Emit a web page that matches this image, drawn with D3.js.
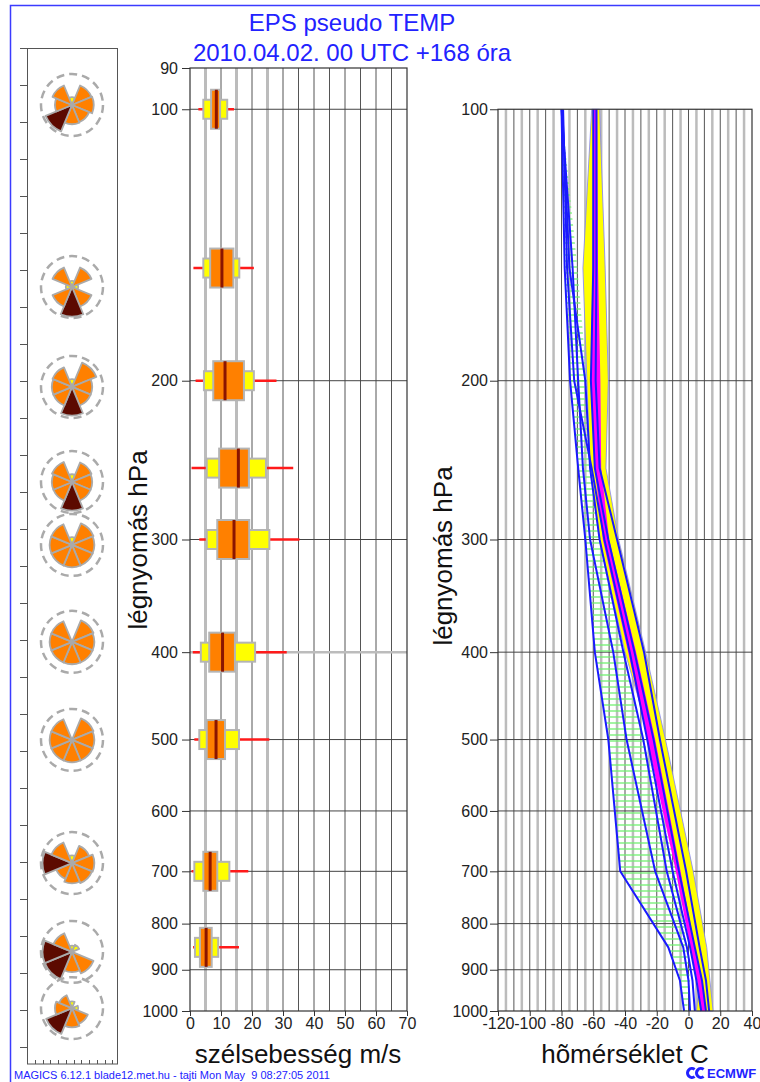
<!DOCTYPE html>
<html><head><meta charset="utf-8">
<script src="https://cdn.jsdelivr.net/npm/d3@7"></script>
<style>body{margin:0;background:#fff}svg{display:block}text{font-family:"Liberation Sans",Arial,Helvetica,sans-serif}</style>
</head><body><svg id="c" width="760" height="1082"></svg>
<script>
// ---------------- DATA ----------------
const titleLines = ["EPS pseudo TEMP", "2010.04.02. 00 UTC +168 óra"];
const footerText = "MAGICS 6.12.1 blade12.met.hu - tajti Mon May  9 08:27:05 2011";
const pressureTicks = [90,100,200,300,400,500,600,700,800,900,1000];
const tempPressureTicks = [100,200,300,400,500,600,700,800,900,1000];
const windTicks = [0,10,20,30,40,50,60,70];
const tempTicks = [-120,-100,-80,-60,-40,-20,0,20,40];

// wind speed box plots (m/s)
const windLevels = [100,150,200,250,300,400,500,700,850];
const windMin = [2.7,1.1,1.8,0.5,3.0,0.9,1.4,0.5,1.0];
const windP10 = [4.3,4.3,4.5,5.4,5.4,3.5,3.0,1.4,1.6];
const windP25 = [6.8,6.5,7.5,9.4,8.8,6.2,5.4,4.3,3.2];
const windMed = [8.5,10.3,11.3,15.6,14.2,10.5,8.4,6.5,5.2];
const windP75 = [9.7,14.0,17.4,19.0,19.1,14.5,11.3,8.8,7.0];
const windP90 = [12.0,15.9,20.6,24.5,25.6,21.0,15.8,12.7,9.1];
const windMax = [14.2,20.6,27.9,33.3,35.3,31.2,25.6,18.8,15.8];

// temperature profile (°C)
const pLevels = [100,150,200,250,300,400,500,700,850,925,1000];
const tempLo  = [-61,-66.5,-64,-62,-56,-40,-24,-5.5,3,7,5];
const tempHi  = [-56,-52.5,-50.5,-52,-44,-27,-14.5,3,11.5,13.5,15.5];
const tempQLo = [-60,-60.5,-61.5,-59,-54,-38,-26,-8,1,5.5,8];
const tempQHi = [-57.5,-57,-55.5,-55,-50,-33,-21,-5,4,8.5,11];
const greenHi = [-80,-70,-64,-62,-56,-41,-28,-7.5,-1,1,-1];
const blue0 = [-80,-78,-74.6,-69.5,-65,-59,-50.5,-43,-12.7,-5.4,-2.8];
const blue1 = [-80,-73,-69.5,-66.5,-62,-47.4,-39,-21,-3.3,0,1];
const blue2 = [-79.5,-75,-65,-62,-56,-41,-28.5,-13.7,-1,2.5,4];
const blue3 = [-79,-76.5,-72,-61,-53,-37,-26,-10,1,5,8];
const blue4 = [-60,-60,-61.5,-59,-50.5,-34,-22,-6,4,8.5,11];
const blue5 = [-58,-58,-58.5,-56,-45,-28,-18,-1.5,7,11,13];

// wind roses (left panel); position in panel units, sector size in % of dashed circle
const roseDirs = ["N","NE","E","SE","S","SW","W","NW"];
const roseY = [25.46,20.54,17.84,15.27,13.57,10.95,8.3,4.97,2.57,1.05];
const roseSize = [
  [25,68,70,60,62,92,55,68],
  [20,68,20,68,95,68,20,68],
  [25,85,65,65,92,65,65,68],
  [25,68,65,65,92,65,65,70],
  [25,75,72,72,72,72,72,72],
  [0,75,72,72,72,72,72,72],
  [0,75,72,72,72,72,72,72],
  [25,60,72,70,65,55,95,72],
  [20,25,0,75,65,95,95,65],
  [22,0,20,55,62,90,55,45]
];
// 0 = light (yellow), 1 = medium (orange), 2 = strong (dark brown)
const roseCat = [
  [0,1,1,1,1,2,1,1],
  [0,1,0,1,2,1,0,1],
  [0,1,1,1,2,1,1,1],
  [0,1,1,1,2,1,1,1],
  [0,1,1,1,1,1,1,1],
  [0,1,1,1,1,1,1,1],
  [0,1,1,1,1,1,1,1],
  [0,1,1,1,1,1,2,1],
  [0,0,1,1,1,2,2,1],
  [0,0,0,1,1,2,1,1]
];

// ---------------- DRAW ----------------
const svg = d3.select("#c");
const blue = "#2222ff";
svg.append("rect").attr("width",760).attr("height",1082).attr("fill","#fff");
svg.append("rect").attr("x",10.5).attr("y",5.5).attr("width",800).attr("height",1100)
  .attr("fill","none").attr("stroke","#3b3bff").attr("stroke-width",1.5);

svg.selectAll("text.title").data(titleLines).join("text")
  .attr("x",352).attr("y",(d,i)=>31+i*30).attr("text-anchor","middle")
  .attr("font-size",24).attr("fill",blue).text(d=>d);

const yP = d3.scaleLog().domain([90,1000]).range([68,1011]);
const xW = d3.scaleLinear().domain([0,70]).range([190,407]);
const xT = d3.scaleLinear().domain([-120,40]).range([498,752]);
const yL = d3.scaleLinear().domain([0,27]).range([1047,48]);
const xLB = d3.scaleLinear().domain([0,11.6]).range([27,117]);
const rR = d3.scaleLinear().domain([0,100]).range([0,31]);
const fmt = d => String(d);

// ---- left panel: wind roses ----
const gl = svg.append("g");
gl.append("rect").attr("x",27.5).attr("y",48.5).attr("width",90).attr("height",1015.5)
  .attr("fill","none").attr("stroke","#555").attr("stroke-width",1);
gl.selectAll("line.lt").data(d3.range(0,28)).join("line")
  .attr("x1",20).attr("x2",27.5).attr("y1",d=>Math.round(yL(d))+0.5).attr("y2",d=>Math.round(yL(d))+0.5)
  .attr("stroke","#555");
gl.selectAll("line.bt").data(d3.range(0,12)).join("line")
  .attr("x1",d=>Math.round(xLB(d))+0.5).attr("x2",d=>Math.round(xLB(d))+0.5)
  .attr("y1",1064).attr("y2",1060).attr("stroke","#555");
const catColor = ["#ffff00","#ff8000","#5c0a00"];
const arc = d3.arc().innerRadius(0);
roseY.forEach((ry,i)=>{
  const g = gl.append("g").attr("transform",`translate(72,${yL(ry)})`);
  g.append("circle").attr("r",rR(100)).attr("fill","none").attr("stroke","#aaa")
    .attr("stroke-width",2.5).attr("stroke-dasharray","8,5");
  const secs = roseDirs.map((d,k)=>({k,v:roseSize[i][k],c:roseCat[i][k]})).filter(s=>s.v>0);
  g.selectAll("path").data(secs).join("path")
    .attr("d",s=>arc({outerRadius:rR(s.v),startAngle:(s.k*45-22.5)*Math.PI/180,endAngle:(s.k*45+22.5)*Math.PI/180}))
    .attr("fill",s=>catColor[s.c]).attr("stroke","#aaa").attr("stroke-width",1.8).attr("stroke-linejoin","round");
});

// ---- middle panel: wind speed ----
const gm = svg.append("g");
d3.range(5,70,5).forEach(v=>{
  const grey = (v===5||v===15||v===25);
  gm.append("line").attr("x1",xW(v)).attr("x2",xW(v)).attr("y1",yP(90)).attr("y2",yP(1000))
    .attr("stroke",grey?"#bcbcbc":"#555").attr("stroke-width",grey?3:1);
});
pressureTicks.filter(p=>p>90&&p<1000).forEach(p=>{
  const grey = p===400;
  gm.append("line").attr("x1",xW(0)).attr("x2",xW(70)).attr("y1",yP(p)).attr("y2",yP(p))
    .attr("stroke",grey?"#bcbcbc":"#444").attr("stroke-width",grey?2.5:1);
});
gm.append("rect").attr("x",xW(0)).attr("y",yP(90)).attr("width",xW(70)-xW(0)).attr("height",yP(1000)-yP(90))
  .attr("fill","none").attr("stroke","#333").attr("stroke-width",1.2);

const boxes = windLevels.map((p,i)=>({p,mn:windMin[i],p10:windP10[i],p25:windP25[i],md:windMed[i],p75:windP75[i],p90:windP90[i],mx:windMax[i]}));
const bg = gm.selectAll("g.box").data(boxes).join("g");
bg.append("line").attr("x1",d=>xW(d.mn)).attr("x2",d=>xW(d.mx)).attr("y1",d=>yP(d.p)).attr("y2",d=>yP(d.p))
  .attr("stroke","#ff1a1a").attr("stroke-width",2.5);
bg.append("rect").attr("x",d=>xW(d.p10)).attr("y",d=>yP(d.p)-9.5).attr("width",d=>xW(d.p90)-xW(d.p10)).attr("height",19)
  .attr("fill","#ffff00").attr("stroke","#b4b4b4").attr("stroke-width",2);
bg.append("rect").attr("x",d=>xW(d.p25)).attr("y",d=>yP(d.p)-19.5).attr("width",d=>xW(d.p75)-xW(d.p25)).attr("height",39)
  .attr("fill","#ff8000").attr("stroke","#b4b4b4").attr("stroke-width",2);
bg.append("line").attr("x1",d=>xW(d.md)).attr("x2",d=>xW(d.md)).attr("y1",d=>yP(d.p)-19.5).attr("y2",d=>yP(d.p)+19.5)
  .attr("stroke","#8b1500").attr("stroke-width",3);

const axL = gm.append("g").attr("transform",`translate(${xW(0)},0)`)
  .call(d3.axisLeft(yP).tickValues(pressureTicks).tickFormat(fmt).tickSize(8).tickPadding(4));
const axB = gm.append("g").attr("transform",`translate(0,${yP(1000)})`)
  .call(d3.axisBottom(xW).tickValues(windTicks).tickFormat(fmt).tickSize(5).tickPadding(2));
[axL,axB].forEach(a=>{a.select(".domain").remove();a.selectAll("line").attr("stroke","#333");
  a.selectAll("text").attr("font-size",16).attr("fill","#222").attr("font-family","Liberation Sans, Arial, sans-serif");});
gm.append("text").attr("transform",`translate(147,540) rotate(-90)`).attr("text-anchor","middle")
  .attr("font-size",26).attr("fill","#111").text("légnyomás hPa");
gm.append("text").attr("x",298).attr("y",1063).attr("text-anchor","middle")
  .attr("font-size",26).attr("fill","#111").text("szélsebesség m/s");

// ---- right panel: temperature ----
const gr = svg.append("g");
d3.range(-115,40,5).forEach(v=>{
  const grey = Math.abs(v%10)===5;
  gr.append("line").attr("x1",xT(v)).attr("x2",xT(v)).attr("y1",yP(100)).attr("y2",yP(1000))
    .attr("stroke",grey?"#bcbcbc":"#555").attr("stroke-width",grey?2.5:1);
});
tempPressureTicks.filter(p=>p>100&&p<1000).forEach(p=>{
  gr.append("line").attr("x1",xT(-120)).attr("x2",xT(40)).attr("y1",yP(p)).attr("y2",yP(p))
    .attr("stroke","#444").attr("stroke-width",1);
});
const defs = svg.append("defs");
const pat = defs.append("pattern").attr("id","hatch").attr("patternUnits","userSpaceOnUse")
  .attr("width",8).attr("height",6);
pat.append("line").attr("x1",0).attr("x2",8).attr("y1",3).attr("y2",3).attr("stroke","#70f070").attr("stroke-width",1.3);

const prof = pLevels.map((p,i)=>({p,lo:tempLo[i],hi:tempHi[i],qlo:tempQLo[i],qhi:tempQHi[i],g0:blue0[i],g1:greenHi[i]}));
const band = (a,b)=>d3.area().y(d=>yP(d.p)).x0(d=>xT(d[a])).x1(d=>xT(d[b]));
gr.append("path").attr("d",band("g0","g1")(prof)).attr("fill","url(#hatch)");
gr.append("path").attr("d",band("lo","hi")(prof)).attr("fill","#ffff00").attr("stroke","#8080ff").attr("stroke-width",0.8);
gr.append("path").attr("d",band("qlo","qhi")(prof)).attr("fill","#ff00ff");
const line = d3.line().x(d=>xT(d.t)).y(d=>yP(d.p));
[blue0,blue1,blue2,blue3,blue4,blue5].forEach(arr=>{
  gr.append("path").attr("d",line(pLevels.map((p,i)=>({p,t:arr[i]})))).attr("fill","none")
    .attr("stroke","#1a1aff").attr("stroke-width",2).attr("stroke-linejoin","round");
});
gr.append("rect").attr("x",xT(-120)).attr("y",yP(100)).attr("width",xT(40)-xT(-120)).attr("height",yP(1000)-yP(100))
  .attr("fill","none").attr("stroke","#333").attr("stroke-width",1.2);
const axL2 = gr.append("g").attr("transform",`translate(${xT(-120)},0)`)
  .call(d3.axisLeft(yP).tickValues(tempPressureTicks).tickFormat(fmt).tickSize(8).tickPadding(2));
const axB2 = gr.append("g").attr("transform",`translate(0,${yP(1000)})`)
  .call(d3.axisBottom(xT).tickValues(tempTicks).tickFormat(fmt).tickSize(5).tickPadding(2));
[axL2,axB2].forEach(a=>{a.select(".domain").remove();a.selectAll("line").attr("stroke","#333");
  a.selectAll("text").attr("font-size",16).attr("fill","#222").attr("font-family","Liberation Sans, Arial, sans-serif");});
gr.append("text").attr("transform",`translate(452,556) rotate(-90)`).attr("text-anchor","middle")
  .attr("font-size",26).attr("fill","#111").text("légnyomás hPa");
gr.append("text").attr("x",625).attr("y",1063).attr("text-anchor","middle")
  .attr("font-size",26).attr("fill","#111").text("hõmérséklet C");

// ---- footer ----
svg.append("text").attr("x",14).attr("y",1079).attr("font-size",11).attr("fill",blue)
  .style("white-space","pre").text(footerText);
const logoArc = d3.arc().innerRadius(3).outerRadius(6).startAngle(0.8*Math.PI).endAngle(2.2*Math.PI);
[692,701].forEach(cx=>{
  svg.append("path").attr("transform",`translate(${cx},1073)`).attr("d",logoArc()).attr("fill",blue);
});
svg.append("text").attr("x",707).attr("y",1078).attr("font-size",13).attr("font-weight","bold")
  .attr("fill",blue).text("ECMWF");
</script></body></html>
